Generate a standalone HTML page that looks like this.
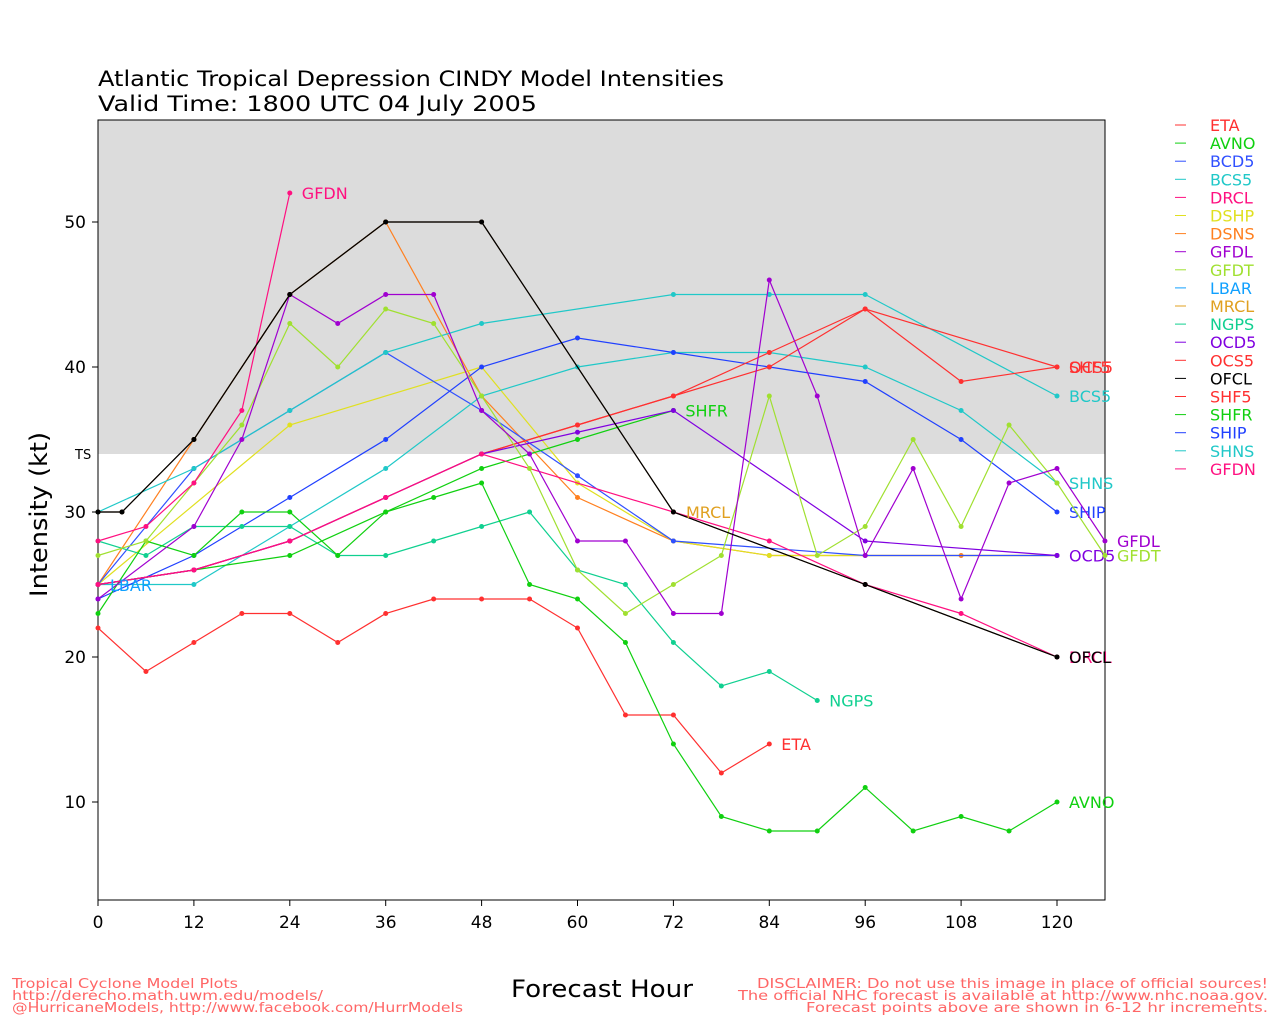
<!DOCTYPE html>
<html><head><meta charset="utf-8"><style>
body{margin:0;background:#fff;}
svg text{font-family:"DejaVu Sans","Liberation Sans",sans-serif;}
</style></head><body>
<svg id="s" width="1280" height="1024" xmlns="http://www.w3.org/2000/svg">
<rect x="0" y="0" width="1280" height="1024" fill="#fff"/>
<rect x="98" y="120" width="1007" height="334" fill="#dcdcdc"/>
<rect x="98" y="120" width="1007" height="780" fill="none" stroke="#000" stroke-width="1"/>
<text x="98" y="86" font-size="21" fill="#000" textLength="626" lengthAdjust="spacingAndGlyphs">Atlantic Tropical Depression CINDY Model Intensities</text>
<text x="98" y="111" font-size="21" fill="#000" textLength="439" lengthAdjust="spacingAndGlyphs">Valid Time: 1800 UTC 04 July 2005</text>
<text x="75" y="459" font-size="13" fill="#000">TS</text>
<text transform="translate(47,597) rotate(-90)" font-size="24" textLength="165" lengthAdjust="spacingAndGlyphs">Intensity (kt)</text>
<text x="511" y="997" font-size="24" textLength="182" lengthAdjust="spacingAndGlyphs">Forecast Hour</text>
<g font-size="13" fill="#ff6666">
<text x="12" y="988" textLength="226" lengthAdjust="spacingAndGlyphs">Tropical Cyclone Model Plots</text>
<text x="12" y="1000" textLength="311" lengthAdjust="spacingAndGlyphs">http://derecho.math.uwm.edu/models/</text>
<text x="12" y="1012" textLength="451" lengthAdjust="spacingAndGlyphs">@HurricaneModels, http://www.facebook.com/HurrModels</text>
<text x="757" y="988" textLength="511" lengthAdjust="spacingAndGlyphs">DISCLAIMER: Do not use this image in place of official sources!</text>
<text x="738" y="1000" textLength="530" lengthAdjust="spacingAndGlyphs">The official NHC forecast is available at http://www.nhc.noaa.gov.</text>
<text x="806" y="1012" textLength="462" lengthAdjust="spacingAndGlyphs">Forecast points above are shown in 6-12 hr increments.</text>
</g>
<g id="ax"></g><g id="ser"></g><g id="leg"></g>
</svg>
<script>
const X=h=>98+h*959/120, Y=v=>222+(50-v)*14.5;
const NS="http://www.w3.org/2000/svg";
function el(p,t,a,txt){const e=document.createElementNS(NS,t);for(const k in a)e.setAttribute(k,a[k]);if(txt!==undefined)e.textContent=txt;p.appendChild(e);return e;}
const ax=document.getElementById('ax');
for(let h=0;h<=120;h+=12){el(ax,'line',{x1:X(h),x2:X(h),y1:900,y2:906,stroke:'#000'});el(ax,'text',{x:X(h),y:928,'font-size':17,'text-anchor':'middle'},h);}
for(const v of [10,20,30,40,50]){el(ax,'line',{x1:92,x2:98,y1:Y(v),y2:Y(v),stroke:'#000'});el(ax,'text',{x:86,y:Y(v)+6,'font-size':17,'text-anchor':'end'},v);}
const S=[
['DSNS','#ff8020',[[0,25],[12,35],[24,45],[36,50],[48,38],[60,31],[72,28],[84,27],[96,27],[108,27],[120,27]]],
['DSHP','#e0e020',[[0,25],[24,36],[48,40],[60,32],[72,28],[84,27],[120,27]]],
['BCD5','#3050ff',[[0,25],[12,33],[24,37],[36,41],[48,37],[60,32.5],[72,28],[96,27],[120,27]]],
['BCS5','#20c8c8',[[0,30],[12,33],[24,37],[36,41],[48,43],[72,45],[84,45],[96,45],[120,38]],'BCS5'],
['SHNS','#20c8c8',[[0,25],[12,25],[24,29],[36,33],[48,38],[60,40],[72,41],[84,41],[96,40],[108,37],[120,32]],'SHNS'],
['SHIP','#2040ff',[[0,24],[12,27],[24,31],[36,35],[48,40],[60,42],[72,41],[84,40],[96,39],[108,35],[120,30]],'SHIP'],
['NGPS','#10d090',[[0,28],[6,27],[12,29],[18,29],[24,29],[30,27],[36,27],[42,28],[48,29],[54,30],[60,26],[66,25],[72,21],[78,18],[84,19],[90,17]],'NGPS'],
['ETA','#ff3030',[[0,22],[6,19],[12,21],[18,23],[24,23],[30,21],[36,23],[42,24],[48,24],[54,24],[60,22],[66,16],[72,16],[78,12],[84,14]],'ETA'],
['AVNO','#10d010',[[0,23],[6,28],[12,27],[18,30],[24,30],[30,27],[36,30],[42,31],[48,32],[54,25],[60,24],[66,21],[72,14],[78,9],[84,8],[90,8],[96,11],[102,8],[108,9],[114,8],[120,10]],'AVNO'],
['SHFR','#10d010',[[0,25],[12,26],[24,27],[36,30],[48,33],[60,35],[72,37]],'SHFR'],
['OCS5','#ff3030',[[0,25],[12,26],[24,28],[36,31],[48,34],[60,36],[72,38],[84,41],[96,44],[120,40]],'OCS5'],
['SHF5','#ff3030',[[0,25],[12,26],[24,28],[36,31],[48,34],[60,36],[72,38],[84,40],[96,44],[108,39],[120,40]],'SHF5'],
['OCD5','#8000e0',[[0,25],[12,26],[24,28],[36,31],[48,34],[60,35.5],[72,37],[96,28],[120,27]],'OCD5'],
['DRCL','#ff1080',[[0,25],[12,26],[24,28],[36,31],[48,34],[72,30],[84,28],[96,25],[108,23],[120,20]],'DRCL'],
['GFDT','#a0e030',[[0,27],[6,28],[12,32],[18,36],[24,43],[30,40],[36,44],[42,43],[48,38],[54,33],[60,26],[66,23],[72,25],[78,27],[84,38],[90,27],[96,29],[102,35],[108,29],[114,36],[120,32],[126,27]],'GFDT'],
['GFDL','#a000d0',[[0,24],[12,29],[18,35],[24,45],[30,43],[36,45],[42,45],[48,37],[54,34],[60,28],[66,28],[72,23],[78,23],[84,46],[90,38],[96,27],[102,33],[108,24],[114,32],[120,33],[126,28]],'GFDL'],
['GFDN','#ff1080',[[0,28],[6,29],[12,32],[18,37],[24,52]],'GFDN'],
['OFCL2','#603000',[[0,30],[3,30],[12,35],[24,45],[36,50],[48,50],[72,30],[96,25],[120,20]]],
['OFCL','#000',[[0,30],[3,30],[12,35],[24,45],[36,50],[48,50],[72,30],[96,25],[120,20]],'OFCL'],
];
const g=document.getElementById('ser');
for(const [n,c,p,lab] of S){
 el(g,'polyline',{points:p.map(q=>X(q[0])+','+Y(q[1])).join(' '),fill:'none',stroke:c,'stroke-width':1.2});
 for(const q of p) el(g,'circle',{cx:X(q[0]),cy:Y(q[1]),r:2.5,fill:c});
 if(lab){const q=p[p.length-1];el(g,'text',{x:X(q[0])+12,y:Y(q[1])+6,'font-size':16,fill:c},lab);}
}
el(g,'text',{x:686,y:518,'font-size':16,fill:'#e0a020'},'MRCL');
el(g,'text',{x:110,y:591,'font-size':16,fill:'#10a0ff'},'LBAR');
const L=[['ETA','#ff3030'],['AVNO','#10d010'],['BCD5','#3050ff'],['BCS5','#20c8c8'],['DRCL','#ff1080'],['DSHP','#e0e020'],['DSNS','#ff8020'],['GFDL','#a000d0'],['GFDT','#a0e030'],['LBAR','#10a0ff'],['MRCL','#e0a020'],['NGPS','#10d090'],['OCD5','#8000e0'],['OCS5','#ff3030'],['OFCL','#000'],['SHF5','#ff3030'],['SHFR','#10d010'],['SHIP','#2040ff'],['SHNS','#20c8c8'],['GFDN','#ff1080']];
const lg=document.getElementById('leg');
L.forEach(([n,c],i)=>{const y=125+i*18.1;el(lg,'line',{x1:1175,x2:1186,y1:y,y2:y,stroke:c});el(lg,'text',{x:1210,y:y+6,'font-size':16,fill:c},n);});
</script>
</body></html>
